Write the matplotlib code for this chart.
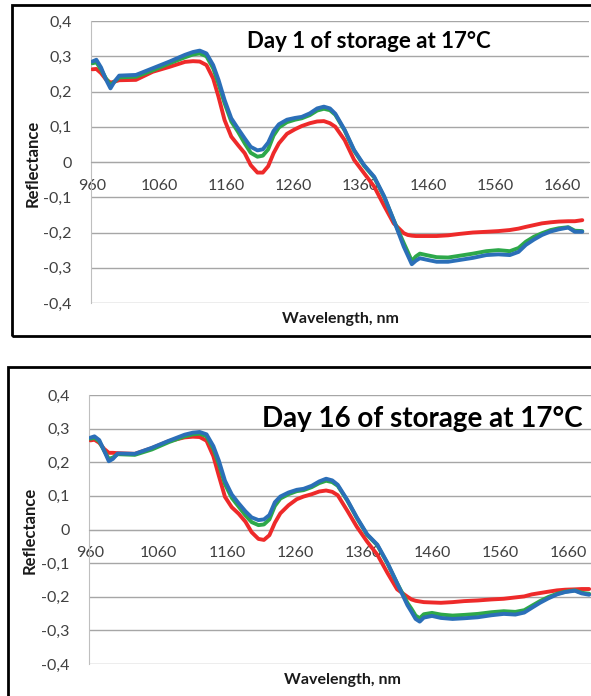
import matplotlib
matplotlib.use("Agg")
import matplotlib.pyplot as plt
from matplotlib.patches import Rectangle
from matplotlib.ticker import FuncFormatter, FixedLocator

wavelength = [960, 966, 973, 980, 987, 993, 1000, 1025, 1050, 1075, 1098, 1110, 1120, 1130,
              1140, 1148, 1157, 1167, 1177, 1187, 1196, 1206, 1214, 1222, 1230, 1238, 1250,
              1262, 1272, 1284, 1295, 1305, 1314, 1322, 1336, 1350, 1365, 1380, 1395, 1409,
              1424, 1430, 1436, 1442, 1448, 1460, 1473, 1490, 1507, 1527, 1547, 1565, 1582,
              1595, 1606, 1618, 1630, 1643, 1655, 1669, 1679, 1690]

day1_blue = [0.285, 0.290, 0.268, 0.235, 0.209, 0.228, 0.245, 0.247, 0.266, 0.285, 0.304, 0.312,
             0.316, 0.308, 0.275, 0.233, 0.176, 0.124, 0.095, 0.067, 0.043, 0.033, 0.036, 0.055,
             0.088, 0.107, 0.120, 0.125, 0.128, 0.138, 0.152, 0.157, 0.152, 0.137, 0.091, 0.034,
             -0.009, -0.042, -0.098, -0.165, -0.240, -0.265, -0.290, -0.280, -0.273, -0.278,
             -0.283, -0.283, -0.278, -0.272, -0.264, -0.262, -0.264, -0.255, -0.235, -0.220,
             -0.207, -0.197, -0.191, -0.186, -0.198, -0.198]
day1_green = [0.280, 0.283, 0.262, 0.238, 0.218, 0.228, 0.240, 0.242, 0.260, 0.280, 0.297, 0.305,
              0.308, 0.300, 0.266, 0.222, 0.167, 0.115, 0.086, 0.053, 0.026, 0.015, 0.018, 0.036,
              0.075, 0.098, 0.113, 0.120, 0.124, 0.133, 0.146, 0.151, 0.147, 0.134, 0.089, 0.032,
              -0.011, -0.044, -0.100, -0.165, -0.230, -0.255, -0.281, -0.268, -0.260, -0.265,
              -0.270, -0.271, -0.266, -0.260, -0.253, -0.250, -0.253, -0.244, -0.226, -0.212,
              -0.202, -0.193, -0.188, -0.185, -0.195, -0.196]
day1_red = [0.263, 0.264, 0.252, 0.235, 0.225, 0.228, 0.232, 0.233, 0.256, 0.270, 0.284, 0.286,
            0.285, 0.275, 0.237, 0.185, 0.119, 0.072, 0.048, 0.025, -0.009, -0.030, -0.030,
            -0.012, 0.025, 0.053, 0.080, 0.093, 0.102, 0.110, 0.115, 0.116, 0.110, 0.100, 0.062,
            0.006, -0.032, -0.070, -0.125, -0.174, -0.202, -0.207, -0.209, -0.210, -0.210,
            -0.210, -0.210, -0.208, -0.204, -0.200, -0.198, -0.196, -0.193, -0.189, -0.184,
            -0.179, -0.174, -0.171, -0.169, -0.168, -0.168, -0.165]

day16_blue = [0.273, 0.277, 0.266, 0.235, 0.203, 0.210, 0.226, 0.225, 0.243, 0.264, 0.282, 0.288,
              0.290, 0.283, 0.248, 0.205, 0.145, 0.104, 0.078, 0.054, 0.036, 0.028, 0.030, 0.043,
              0.081, 0.098, 0.110, 0.118, 0.121, 0.130, 0.143, 0.151, 0.146, 0.133, 0.088, 0.036,
              -0.014, -0.045, -0.100, -0.160, -0.225, -0.245, -0.266, -0.274, -0.262, -0.257,
              -0.263, -0.266, -0.264, -0.261, -0.255, -0.251, -0.253, -0.247, -0.233, -0.218,
              -0.205, -0.193, -0.186, -0.182, -0.190, -0.194]
day16_green = [0.270, 0.273, 0.262, 0.235, 0.210, 0.214, 0.224, 0.222, 0.238, 0.260, 0.277, 0.283,
               0.285, 0.277, 0.240, 0.195, 0.135, 0.094, 0.068, 0.042, 0.022, 0.013, 0.015, 0.030,
               0.070, 0.092, 0.105, 0.114, 0.117, 0.126, 0.138, 0.145, 0.141, 0.130, 0.086, 0.034,
               -0.016, -0.047, -0.102, -0.160, -0.218, -0.236, -0.256, -0.264, -0.252, -0.248,
               -0.253, -0.256, -0.254, -0.251, -0.246, -0.243, -0.245, -0.240, -0.227, -0.213,
               -0.201, -0.191, -0.185, -0.181, -0.188, -0.191]
day16_red = [0.265, 0.267, 0.258, 0.240, 0.228, 0.228, 0.227, 0.225, 0.242, 0.263, 0.274, 0.276,
             0.275, 0.264, 0.218, 0.160, 0.097, 0.066, 0.047, 0.023, -0.008, -0.028, -0.031,
             -0.017, 0.020, 0.048, 0.072, 0.090, 0.098, 0.105, 0.113, 0.116, 0.112, 0.102, 0.056,
             0.008, -0.036, -0.075, -0.130, -0.178, -0.200, -0.208, -0.212, -0.214, -0.216,
             -0.217, -0.218, -0.216, -0.213, -0.211, -0.208, -0.206, -0.202, -0.199, -0.193,
             -0.189, -0.185, -0.181, -0.179, -0.178, -0.177, -0.177]

x_ticks = [960, 1060, 1160, 1260, 1360, 1460, 1560, 1660]
y_ticks = [-0.4, -0.3, -0.2, -0.1, 0, 0.1, 0.2, 0.3, 0.4]
titles = ["Day 1 of storage at 17°C", "Day 16 of storage at 17°C"]
xlabel = "Wavelength, nm"
ylabel = "Reflectance"

RED = "#EE2A2A"
GREEN = "#2DA84A"
BLUE = "#2B6FB8"
FONT = "Lato"

W, H = 591, 696
fig = plt.figure(figsize=(W / 100, H / 100), dpi=100)


def fx(px):
    return px / W


def fy(py):
    return 1 - py / H


def yfmt(v, pos):
    if abs(v) < 1e-9:
        return "0"
    return f"{v:.1f}".replace(".", ",")


def make_panel(rect, series, title, title_xy, title_size, ylab_xy, xlab_xy):
    ax = fig.add_axes(rect)
    for vals, col in series:
        ax.plot(wavelength, vals, color=col, lw=2.8, solid_joinstyle="round",
                solid_capstyle="round", zorder=3)
    ax.set_xlim(958, 1700)
    ax.set_ylim(-0.4, 0.4)
    ax.yaxis.set_major_locator(FixedLocator(y_ticks))
    ax.yaxis.set_major_formatter(FuncFormatter(yfmt))
    ax.xaxis.set_major_locator(FixedLocator(x_ticks))
    ax.grid(axis="y", color="#A6A6A6", lw=1.0, zorder=0)
    ax.grid(axis="x", visible=False)
    ax.spines["top"].set_visible(False)
    ax.spines["right"].set_visible(False)
    ax.spines["bottom"].set_position(("data", 0))
    ax.spines["bottom"].set_color("#A6A6A6")
    ax.spines["left"].set_color("#BFBFBF")
    ax.tick_params(axis="x", length=0, pad=12, labelsize=11.5, labelcolor="#404040")
    ax.tick_params(axis="y", length=0, pad=14, labelsize=11.5, labelcolor="#404040")
    for lab in ax.get_xticklabels() + ax.get_yticklabels():
        lab.set_fontfamily(FONT)
    fig.text(title_xy[0], title_xy[1], title, fontsize=title_size, fontweight="bold",
             family=FONT, ha="center", va="center", color="#000000")
    fig.text(ylab_xy[0], ylab_xy[1], ylabel, rotation=90, fontsize=12, fontweight="bold",
             family=FONT, ha="center", va="center", color="#1a1a1a")
    fig.text(xlab_xy[0], xlab_xy[1], xlabel, fontsize=11.5, fontweight="bold",
             family=FONT, ha="center", va="center", color="#1a1a1a")
    return ax


# top panel
make_panel([fx(91), fy(303), fx(589 - 91), (303 - 21) / H],
           [(day1_red, RED), (day1_green, GREEN), (day1_blue, BLUE)],
           titles[0], (fx(369), fy(42)), 16, (fx(33), fy(163)), (fx(340), fy(319)))

# bottom panel
make_panel([fx(89), fy(664), fx(596 - 89), (664 - 395) / H],
           [(day16_red, RED), (day16_green, GREEN), (day16_blue, BLUE)],
           titles[1], (fx(422), fy(419)), 20, (fx(30), fy(530)), (fx(342), fy(680)))

# outer frames
fig.patches.append(Rectangle((fx(12), fy(336)), fx(600 - 12), (336 - 5) / H,
                             transform=fig.transFigure, fill=False, ec="black", lw=2))
fig.patches.append(Rectangle((fx(8), fy(710)), fx(600 - 8), (710 - 367) / H,
                             transform=fig.transFigure, fill=False, ec="black", lw=2))

fig.savefig("out.png", dpi=100, facecolor="white")
